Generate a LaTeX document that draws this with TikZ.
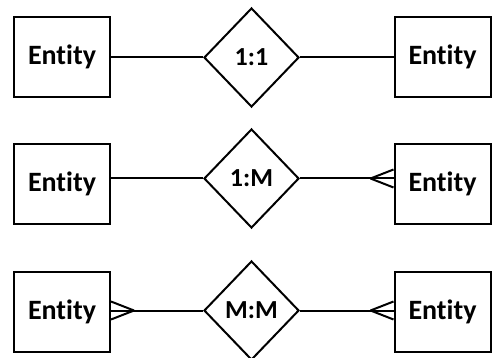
\documentclass[tikz,border=0pt]{standalone}
\usepackage{fontspec}
\setmainfont{Carlito}[Ligatures={NoCommon}]
\usetikzlibrary{shapes.geometric}

\tikzset{
  entbox/.style={draw, line width=2pt, rectangle, minimum width=96, minimum height=80,
    inner sep=0, font=\fontsize{28}{30}\selectfont\bfseries},
  relbox/.style={draw, line width=2pt, diamond, minimum width=95, minimum height=99,
    inner sep=0, font=\fontsize{26}{28}\selectfont\bfseries},
  link/.style={line width=2pt},
}

\begin{document}
\begin{tikzpicture}[x=1pt, y=-1pt]
  \useasboundingbox (0,0) rectangle (492,358);

  % ---------- 1:1 ----------
  \node[entbox] (entA1) at (62,57) {Entity};
  \node[relbox] (relA) at (251.5,57.5) {1:1};
  \node[entbox] (entA2) at (442.5,57) {Entity};
  \draw[link] (relA.west -| entA1.east) -- (relA.west);
  \draw[link] (relA.east) -- (relA.east -| entA2.west);

  % ---------- 1:M ----------
  \node[entbox] (entB1) at (62,184) {Entity};
  \node[relbox] (relB) at (251.5,178.5) {1:M};
  \node[entbox] (entB2) at (442.5,184) {Entity};
  \draw[link] (relB.west -| entB1.east) -- (relB.west);
  \draw[link] (relB.east) -- (relB.east -| entB2.west);
  % crow's foot
  \draw[link] (relB.east -| entB2.west) ++(-23,0) coordinate (footB)
    -- ++(23,-9) (footB) -- ++(23,9);

  % ---------- M:M ----------
  \node[entbox] (entC1) at (62,312) {Entity};
  \node[relbox] (relC) at (251.5,310.5) {M:M};
  \node[entbox] (entC2) at (442.5,312) {Entity};
  \draw[link] (relC.west -| entC1.east) -- (relC.west);
  \draw[link] (relC.east) -- (relC.east -| entC2.west);
  % crow's feet
  \draw[link] (relC.west -| entC1.east) ++(23,0) coordinate (footC1)
    -- ++(-23,-9) (footC1) -- ++(-23,9);
  \draw[link] (relC.east -| entC2.west) ++(-23,0) coordinate (footC2)
    -- ++(23,-9) (footC2) -- ++(23,9);
\end{tikzpicture}
\end{document}
